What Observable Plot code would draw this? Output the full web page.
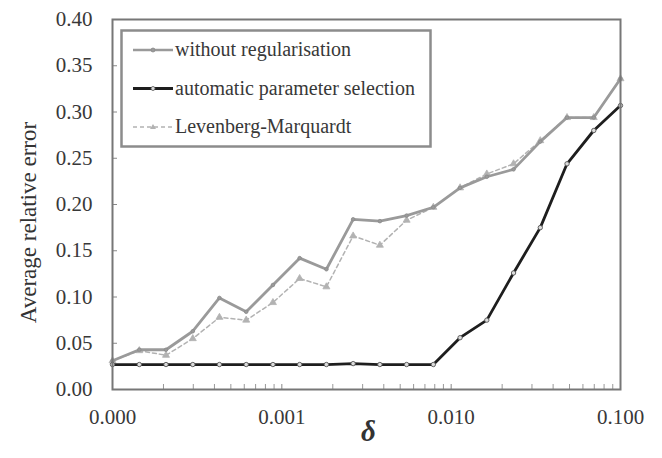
<!DOCTYPE html>
<html>
<head>
<meta charset="utf-8">
<script src="https://cdn.jsdelivr.net/npm/d3@7"></script>
<script src="https://cdn.jsdelivr.net/npm/@observablehq/plot@0.6"></script>
<style>
  html, body { margin: 0; padding: 0; background: #fff; }
  #wrap { position: relative; width: 662px; height: 458px; }
  #legend { position: absolute; left: 0; top: 0; pointer-events: none; }
</style>
</head>
<body>
<div id="wrap"></div>
<script>
// ---- data ----
const delta = [0.0001, 0.000144, 0.000207, 0.000298, 0.000428, 0.000616, 0.000886, 0.001274, 0.001833, 0.002637,
               0.003793, 0.005456, 0.007848, 0.011288, 0.016238, 0.023357, 0.033598, 0.048329, 0.069519, 0.1];
const withoutReg = [0.031, 0.043, 0.043, 0.063, 0.099, 0.084, 0.113, 0.142, 0.130, 0.184,
                    0.182, 0.188, 0.197, 0.218, 0.230, 0.238, 0.268, 0.294, 0.294, 0.336];
const automatic = [0.027, 0.027, 0.027, 0.027, 0.027, 0.027, 0.027, 0.027, 0.027, 0.028,
                   0.027, 0.027, 0.027, 0.056, 0.075, 0.126, 0.175, 0.244, 0.280, 0.307];
const levenberg = [0.031, 0.042, 0.037, 0.055, 0.078, 0.075, 0.094, 0.120, 0.111, 0.166,
                   0.156, 0.183, 0.197, 0.218, 0.233, 0.244, 0.269, 0.294, 0.294, 0.336];
const seriesNames = ["without regularisation", "automatic parameter selection", "Levenberg-Marquardt"];
const xTicks = [0.0001, 0.001, 0.01, 0.1];
const xMinorTicks = [0.0002, 0.0003, 0.0004, 0.0005, 0.0006, 0.0007, 0.0008, 0.0009,
                     0.002, 0.003, 0.004, 0.005, 0.006, 0.007, 0.008, 0.009,
                     0.02, 0.03, 0.04, 0.05, 0.06, 0.07, 0.08, 0.09];
const yTicks = [0.00, 0.05, 0.10, 0.15, 0.20, 0.25, 0.30, 0.35, 0.40];
const yLabel = "Average relative error";
const xLabel = "δ";

const rows = (vals) => delta.map((d, i) => ({x: d, y: vals[i]}));
const dWithout = rows(withoutReg);
const dAuto = rows(automatic);
const dLM = rows(levenberg);

const FONT = "Liberation Serif, Times New Roman, serif";
const cGray = "#9a9a9a", cBlack = "#1e1e1e", cLM = "#b2b2b2";

const chart = Plot.plot({
  width: 662,
  height: 458,
  marginLeft: 112,
  marginRight: 42,
  marginTop: 19,
  marginBottom: 69,
  style: {fontFamily: FONT, fontSize: "21px", color: "#383838", background: "#fff"},
  x: {type: "log", domain: [0.0001, 0.1]},
  y: {domain: [0, 0.40]},
  marks: [
    Plot.axisY({ticks: yTicks, tickFormat: d3.format(".2f"), tickSize: -5, tickPadding: 25, stroke: "#888", label: null}),
    Plot.axisX({ticks: xTicks, tickFormat: d3.format(".3f"), tickSize: -5, tickPadding: 25, stroke: "#888", label: null}),
    Plot.axisX({ticks: xMinorTicks, tickFormat: () => "", tickSize: -5, stroke: "#999", label: null}),
    Plot.line(dLM, {x: "x", y: "y", stroke: cLM, strokeWidth: 1.5, strokeDasharray: "4,3"}),
    Plot.dot(dLM, {x: "x", y: "y", symbol: "triangle", r: 2.6, fill: cLM, stroke: cLM, strokeWidth: 0.8}),
    Plot.line(dWithout, {x: "x", y: "y", stroke: cGray, strokeWidth: 2.8}),
    Plot.dot(dWithout, {x: "x", y: "y", r: 1.8, fill: cGray, stroke: "#8a8a8a", strokeWidth: 0.8}),
    Plot.line(dAuto, {x: "x", y: "y", stroke: cBlack, strokeWidth: 2.8}),
    Plot.dot(dAuto, {x: "x", y: "y", r: 2.2, fill: "#dcdcdc", stroke: "#555", strokeWidth: 0.9}),
    Plot.frame({stroke: "#777", strokeWidth: 2}),
    Plot.text([yLabel], {frameAnchor: "left", textAnchor: "middle", lineAnchor: "middle", rotate: -90, dx: -84, dy: 18, fontSize: 23, fill: "#333"}),
    Plot.text([xLabel], {frameAnchor: "bottom", dy: 51, dx: 2, fontSize: 29, fontStyle: "italic", fontWeight: "bold", fill: "#333"})
  ]
});
const wrap = document.getElementById("wrap");
wrap.appendChild(chart);

// ---- legend overlay (inside the plot area, top-left) ----
const ns = "http://www.w3.org/2000/svg";
const lg = document.createElementNS(ns, "svg");
lg.setAttribute("id", "legend");
lg.setAttribute("width", 662);
lg.setAttribute("height", 458);
const box = document.createElementNS(ns, "rect");
Object.entries({x: 121.5, y: 30.5, width: 309, height: 116, fill: "#fff", stroke: "#8c8c8c", "stroke-width": 2.5}).forEach(([k, v]) => box.setAttribute(k, v));
lg.appendChild(box);
const styles = [
  {stroke: cGray, width: 2.6, dash: null, marker: "circle", mfill: cGray},
  {stroke: cBlack, width: 2.8, dash: null, marker: "circle", mfill: "#dcdcdc"},
  {stroke: cLM, width: 1.5, dash: "4,3", marker: "triangle", mfill: cLM}
];
seriesNames.forEach((name, i) => {
  const cy = 50 + i * 38.5;
  const s = styles[i];
  const ln = document.createElementNS(ns, "line");
  Object.entries({x1: 133, x2: 173, y1: cy, y2: cy, stroke: s.stroke, "stroke-width": s.width}).forEach(([k, v]) => ln.setAttribute(k, v));
  if (s.dash) ln.setAttribute("stroke-dasharray", s.dash);
  lg.appendChild(ln);
  if (s.marker === "triangle") {
    const p = document.createElementNS(ns, "path");
    p.setAttribute("d", `M153,${cy - 3} L156,${cy + 2} L150,${cy + 2} Z`);
    p.setAttribute("fill", s.mfill);
    lg.appendChild(p);
  } else {
    const c = document.createElementNS(ns, "circle");
    Object.entries({cx: 153, cy: cy, r: 2, fill: s.mfill, stroke: i === 1 ? "#555" : "#8a8a8a", "stroke-width": 0.8}).forEach(([k, v]) => c.setAttribute(k, v));
    lg.appendChild(c);
  }
  const t = document.createElementNS(ns, "text");
  Object.entries({x: 175, y: cy + 6, fill: "#383838", "font-family": FONT, "font-size": 20}).forEach(([k, v]) => t.setAttribute(k, v));
  t.textContent = name;
  lg.appendChild(t);
});
wrap.appendChild(lg);
</script>
</body>
</html>
